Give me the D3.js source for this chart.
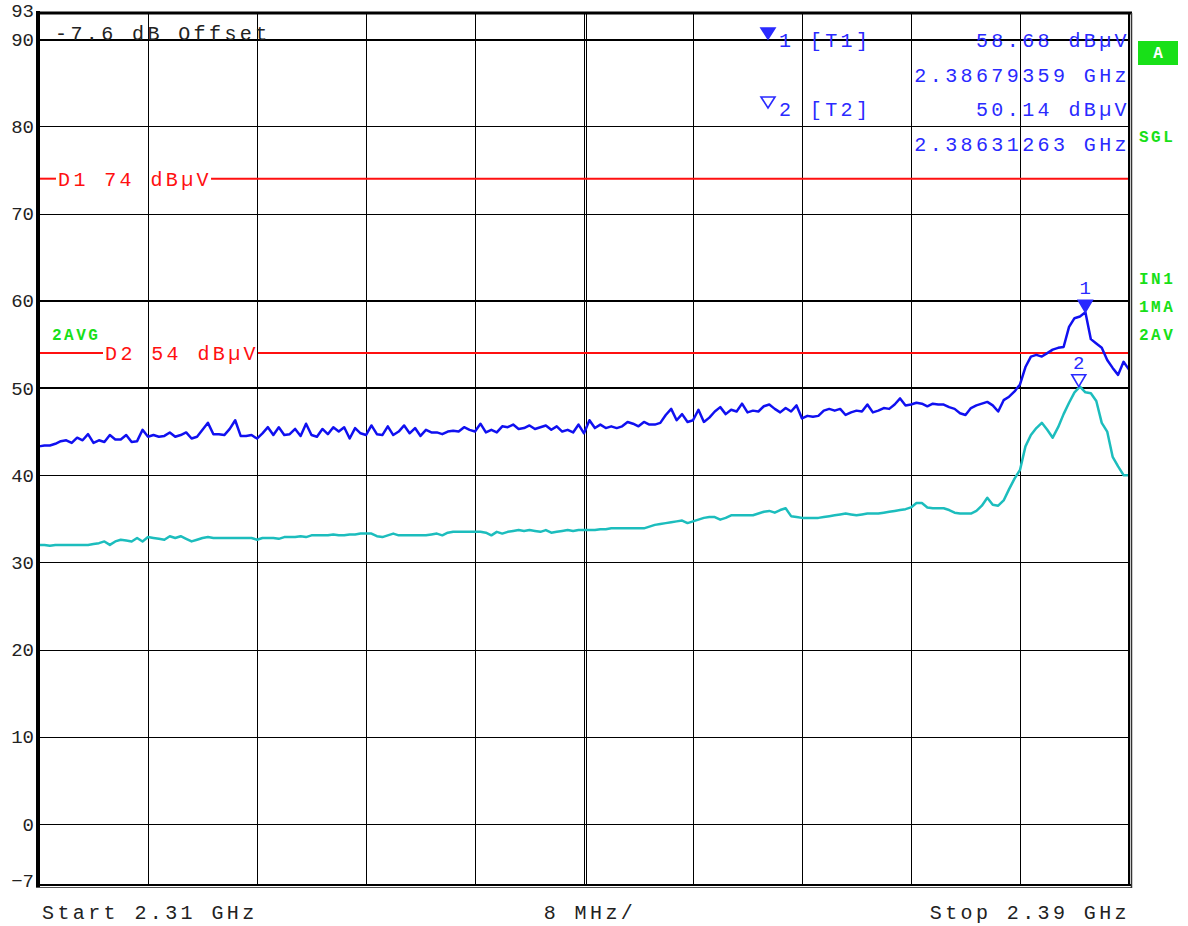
<!DOCTYPE html>
<html>
<head>
<meta charset="utf-8">
<script src="https://cdn.jsdelivr.net/npm/d3@7"></script>
<style>
    body { margin: 0; background: #fff; }
    svg text { font-family: "Liberation Mono", "Courier New", monospace; }
</style>
</head>
<body>
<script>
"use strict";

// sweep settings (GHz)
const sweepStart = 2.31
const sweepStop = 2.39
const divisions = 10

// level axis
const levelMin = -7
const levelMax = 93
const yTickLabels = [93, 90, 80, 70, 60, 50, 40, 30, 20, 10, 0, -7]
const gridLevels = [90, 80, 70, 60, 50, 40, 30, 20, 10, 0]

// trace 1 (max hold), dBµV, evenly spaced sweep points
const trace1 = [
    43.3, 43.4, 43.4, 43.6, 43.9, 44.0, 43.7, 44.3, 44.0, 44.7, 43.7, 44.0, 43.8, 44.6, 44.1, 44.1, 44.6, 43.8, 43.9, 45.2, 44.4,
    44.6, 44.4, 44.5, 44.9, 44.4, 44.6, 44.9, 44.2, 44.4, 45.2, 46.0, 44.7, 44.7, 44.6, 45.3, 46.3, 44.5, 44.5, 44.6, 44.2,
    44.8, 45.5, 44.6, 45.5, 44.6, 44.7, 45.3, 44.5, 45.9, 44.6, 44.4, 45.3, 44.7, 45.5, 45.0, 45.5, 44.2, 45.4, 44.8, 44.6,
    45.7, 44.7, 44.6, 45.6, 44.6, 45.0, 45.7, 44.8, 45.4, 44.5, 45.2, 44.9, 44.9, 44.7, 45.0, 45.1, 45.0, 45.5, 45.2, 45.0,
    45.9, 44.9, 45.2, 44.9, 45.6, 45.5, 45.8, 45.3, 45.4, 45.7, 45.3, 45.5, 45.7, 45.2, 45.6, 45.0, 45.2, 44.9, 45.8, 44.8,
    46.3, 45.4, 45.8, 45.4, 45.6, 45.4, 45.6, 46.1, 45.9, 45.6, 46.1, 45.8, 45.8, 46.0, 46.9, 47.6, 46.3, 47.0, 46.1, 46.3,
    47.5, 46.1, 46.6, 47.3, 47.8, 47.0, 47.5, 47.3, 48.2, 47.2, 47.4, 47.3, 47.9, 48.1, 47.6, 47.2, 47.7, 47.3, 48.0, 46.5,
    46.8, 46.7, 46.8, 47.4, 47.6, 47.4, 47.6, 46.9, 47.2, 47.4, 47.3, 48.1, 47.2, 47.4, 47.7, 47.6, 48.1, 48.8, 48.0, 48.1,
    48.3, 48.2, 47.9, 48.2, 48.1, 48.1, 47.8, 47.6, 47.1, 46.9, 47.7, 48.0, 48.2, 48.4, 48.0, 47.3, 48.6, 49.0, 49.6, 50.4,
    52.4, 53.6, 53.8, 53.6, 54.0, 54.4, 54.6, 54.7, 57.0, 58.0, 58.2, 58.68, 55.6, 55.1, 54.6, 53.2, 52.3, 51.5, 53.0, 52.1
]

// trace 2 (average), dBµV
const trace2 = [
    32.0, 32.0, 31.9, 32.0, 32.0, 32.0, 32.0, 32.0, 32.0, 32.0, 32.1, 32.2, 32.4, 32.0, 32.4, 32.6, 32.5, 32.4, 32.8, 32.4, 32.9,
    32.8, 32.7, 32.6, 33.0, 32.8, 33.0, 32.7, 32.4, 32.6, 32.8, 32.9, 32.8, 32.8, 32.8, 32.8, 32.8, 32.8, 32.8, 32.8, 32.6,
    32.8, 32.8, 32.8, 32.7, 32.9, 32.9, 32.9, 33.0, 32.9, 33.1, 33.1, 33.1, 33.1, 33.2, 33.1, 33.1, 33.2, 33.2, 33.3, 33.3,
    33.3, 33.0, 32.9, 33.1, 33.3, 33.1, 33.1, 33.1, 33.1, 33.1, 33.1, 33.2, 33.3, 33.1, 33.4, 33.5, 33.5, 33.5, 33.5, 33.5,
    33.5, 33.4, 33.1, 33.5, 33.3, 33.5, 33.6, 33.7, 33.6, 33.7, 33.6, 33.5, 33.7, 33.4, 33.5, 33.6, 33.7, 33.6, 33.7, 33.7,
    33.7, 33.7, 33.8, 33.8, 33.9, 33.9, 33.9, 33.9, 33.9, 33.9, 33.9, 34.1, 34.3, 34.4, 34.5, 34.6, 34.7, 34.8, 34.5, 34.7,
    34.9, 35.1, 35.2, 35.2, 34.9, 35.1, 35.4, 35.4, 35.4, 35.4, 35.4, 35.6, 35.8, 35.9, 35.7, 36.0, 36.2, 35.3, 35.2, 35.1,
    35.1, 35.1, 35.1, 35.2, 35.3, 35.4, 35.5, 35.6, 35.5, 35.4, 35.5, 35.6, 35.6, 35.6, 35.7, 35.8, 35.9, 36.0, 36.1, 36.3,
    36.8, 36.8, 36.3, 36.2, 36.2, 36.2, 36.0, 35.7, 35.6, 35.6, 35.6, 35.9, 36.5, 37.4, 36.6, 36.5, 37.1, 38.4, 39.6, 40.6,
    43.3, 44.6, 45.4, 46.0, 45.2, 44.3, 45.5, 47.0, 48.3, 49.5, 50.14, 49.5, 49.4, 48.5, 46.0, 45.0, 42.1, 41.0, 40.0, 40.0
]

// markers
const markerNames = ["1", "2"]
const markerTraces = ["T1", "T2"]
const markerFreqs = [2.38679359, 2.38631263]
const markerLevels = [58.68, 50.14]

// display lines
const displayLineNames = ["D1", "D2"]
const displayLineLevels = [74, 54]

const offsetText = "-7.6 dB Offset"
const spanText = "8 MHz/"

;(function(){
    const measurements = {
        width: 1188,
        height: 926,
        left: 39,
        right: 1129,
        top: 13,
        bottom: 885
    }
    const colors = {
        trace1: "#1010f0",
        trace2: "#1cbdbd",
        marker: "#2a2aff",
        limit: "#ff1010",
        green: "#18e018",
        text: "#222"
    }

    const svg = d3.select("body").append("svg")
        .attr("width", measurements.width)
        .attr("height", measurements.height)

    const scaleX = d3.scaleLinear()
        .domain([sweepStart, sweepStop])
        .range([measurements.left, measurements.right])

    const scaleY = d3.scaleLinear()
        .domain([levelMin, levelMax])
        .range([measurements.bottom, measurements.top])

    drawGrid()
    drawAxes()
    drawDisplayLines()
    drawTrace(trace2, colors.trace2)
    drawTrace(trace1, colors.trace1)
    drawMarkers()
    drawFrame()
    drawTexts()

    function drawGrid() {
        const step = (sweepStop - sweepStart) / divisions
        const xGrid = d3.range(0, divisions + 1).map(k => sweepStart + k * step)

        const vAxis = d3.axisBottom(scaleX)
            .tickValues(xGrid)
            .tickSize(-(measurements.bottom - measurements.top))
            .tickFormat("")
        const vg = svg.append("g")
            .attr("transform", `translate(0,${measurements.bottom})`)
            .call(vAxis)
        vg.select(".domain").remove()
        vg.selectAll("line")
            .attr("stroke", "#000")
            .attr("stroke-width", 1)
            .attr("shape-rendering", "crispEdges")
        // center line is drawn double on the instrument
        svg.append("line")
            .attr("x1", scaleX(sweepStart + 5 * step) + 2).attr("x2", scaleX(sweepStart + 5 * step) + 2)
            .attr("y1", measurements.top).attr("y2", measurements.bottom)
            .attr("stroke", "#000").attr("shape-rendering", "crispEdges")

        const hAxis = d3.axisLeft(scaleY)
            .tickValues(gridLevels)
            .tickSize(-(measurements.right - measurements.left))
            .tickFormat("")
        const hg = svg.append("g")
            .attr("transform", `translate(${measurements.left},0)`)
            .call(hAxis)
        hg.select(".domain").remove()
        hg.selectAll("line")
            .attr("stroke", "#000")
            .attr("stroke-width", d => (d === 90 || d === 60 || d === 50) ? 2 : 1)
            .attr("shape-rendering", "crispEdges")
    }

    function drawAxes() {
        const yAxis = d3.axisLeft(scaleY)
            .tickValues(yTickLabels)
            .tickSize(0)
            .tickPadding(4)
            .tickFormat(d3.format("d"))
        const g = svg.append("g")
            .attr("transform", `translate(${measurements.left - 1},0)`)
            .call(yAxis)
        g.select(".domain").remove()
        g.selectAll("text")
            .attr("font-family", "Liberation Mono")
            .attr("font-size", 19)
            .attr("fill", colors.text)
        g.selectAll(".tick")
            .filter(d => d === 93)
            .select("text").attr("dy", "0.2em")
        g.selectAll(".tick")
            .filter(d => d === -7)
            .select("text").attr("dy", "0.1em")
    }

    function drawDisplayLines() {
        const textStarts = [58, 105]
        displayLineLevels.forEach((lvl, i) => {
            const yy = scaleY(lvl)
            const t = svg.append("text")
                .attr("x", textStarts[i])
                .attr("y", yy + 7)
                .attr("font-size", 20)
                .attr("letter-spacing", 3.4)
                .attr("fill", colors.limit)
                .text(`${displayLineNames[i]} ${lvl} dBµV`)
            const box = t.node().getBBox()
            svg.append("line")
                .attr("x1", measurements.left).attr("x2", box.x - 2)
                .attr("y1", yy).attr("y2", yy)
                .attr("stroke", colors.limit).attr("stroke-width", 2)
            svg.append("line")
                .attr("x1", box.x + box.width - 1).attr("x2", measurements.right)
                .attr("y1", yy).attr("y2", yy)
                .attr("stroke", colors.limit).attr("stroke-width", 2)
        })
    }

    function drawTrace(values, color) {
        const freqAt = i => sweepStart + i * (sweepStop - sweepStart) / (values.length - 1)
        const line = d3.line()
            .x((d, i) => scaleX(freqAt(i)))
            .y(d => scaleY(d))
        svg.append("path")
            .datum(values)
            .attr("d", line)
            .attr("fill", "none")
            .attr("stroke", color)
            .attr("stroke-width", 2.5)
            .attr("stroke-linejoin", "round")
    }

    function drawMarkers() {
        markerFreqs.forEach((f, i) => {
            const mx = scaleX(f)
            const my = scaleY(markerLevels[i])
            svg.append("path")
                .attr("d", `M${mx - 7},${my - 12} L${mx + 7},${my - 12} L${mx},${my} Z`)
                .attr("fill", i === 0 ? colors.marker : "#fff")
                .attr("stroke", colors.marker)
                .attr("stroke-width", 1.6)
            svg.append("text")
                .attr("x", mx)
                .attr("y", my - 18)
                .attr("text-anchor", "middle")
                .attr("font-size", 19)
                .attr("fill", colors.marker)
                .text(markerNames[i])
        })
    }

    function drawFrame() {
        const m = measurements
        svg.append("line").attr("x1", m.left - 1).attr("x2", m.left - 1)
            .attr("y1", m.top - 2).attr("y2", m.bottom + 2)
            .attr("stroke", "#000").attr("stroke-width", 4)
        svg.append("line").attr("x1", m.left - 3).attr("x2", m.right + 3)
            .attr("y1", m.top).attr("y2", m.top)
            .attr("stroke", "#000").attr("stroke-width", 3)
        svg.append("line").attr("x1", m.left - 3).attr("x2", m.right + 3)
            .attr("y1", m.bottom).attr("y2", m.bottom)
            .attr("stroke", "#000").attr("stroke-width", 2)
        svg.append("line").attr("x1", m.left - 3).attr("x2", m.right + 3)
            .attr("y1", m.bottom + 2.5).attr("y2", m.bottom + 2.5)
            .attr("stroke", "#555").attr("stroke-width", 1)
        svg.append("line").attr("x1", m.right).attr("x2", m.right)
            .attr("y1", m.top).attr("y2", m.bottom)
            .attr("stroke", "#000").attr("stroke-width", 2)
        svg.append("line").attr("x1", m.right + 2.5).attr("x2", m.right + 2.5)
            .attr("y1", m.top).attr("y2", m.bottom + 3)
            .attr("stroke", "#333").attr("stroke-width", 1.5)
    }

    function addText(x, y, str, opts) {
        const o = Object.assign({ size: 20, spacing: 3.4, anchor: "start", fill: colors.text, weight: "normal" }, opts)
        return svg.append("text")
            .attr("x", x).attr("y", y)
            .attr("font-size", o.size)
            .attr("letter-spacing", o.spacing)
            .attr("text-anchor", o.anchor)
            .attr("font-weight", o.weight)
            .attr("fill", o.fill)
            .text(str)
    }

    function drawTexts() {
        addText(55, 40, offsetText)

        // marker info block
        const fmtLevel = d3.format(".2f")
        const fmtFreq = d3.format(".8f")
        const rowY = [47, 116]
        markerNames.forEach((name, i) => {
            const sx = 768
            const sy = rowY[i] - 19
            svg.append("path")
                .attr("d", `M${sx - 7},${sy} L${sx + 7},${sy} L${sx},${sy + 11} Z`)
                .attr("fill", i === 0 ? colors.marker : "#fff")
                .attr("stroke", colors.marker)
                .attr("stroke-width", 1.6)
            addText(779, rowY[i], `${name} [${markerTraces[i]}]`, { fill: colors.marker })
            addText(1130, rowY[i], `${fmtLevel(markerLevels[i])} dBµV`, { anchor: "end", fill: colors.marker })
            addText(1130, rowY[i] + 35, `${fmtFreq(markerFreqs[i])} GHz`, { anchor: "end", fill: colors.marker })
        })

        // bottom labels
        addText(42, 919, `Start ${sweepStart} GHz`)
        addText(590, 919, spanText, { anchor: "middle" })
        addText(1130, 919, `Stop ${sweepStop} GHz`, { anchor: "end" })

        // green status labels
        svg.append("rect")
            .attr("x", 1138).attr("y", 41).attr("width", 40).attr("height", 24)
            .attr("fill", colors.green)
        addText(1158, 58, "A", { size: 16, spacing: 0, anchor: "middle", fill: "#fff", weight: "bold" })
        const side = [["SGL", 142], ["IN1", 284], ["1MA", 312], ["2AV", 340]]
        side.forEach(s => addText(1139, s[1], s[0], { size: 16, spacing: 2.5, fill: colors.green, weight: "bold" }))
        addText(52, 340, "2AVG", { size: 16, spacing: 2.5, fill: colors.green, weight: "bold" })
    }
})()
</script>
</body>
</html>
